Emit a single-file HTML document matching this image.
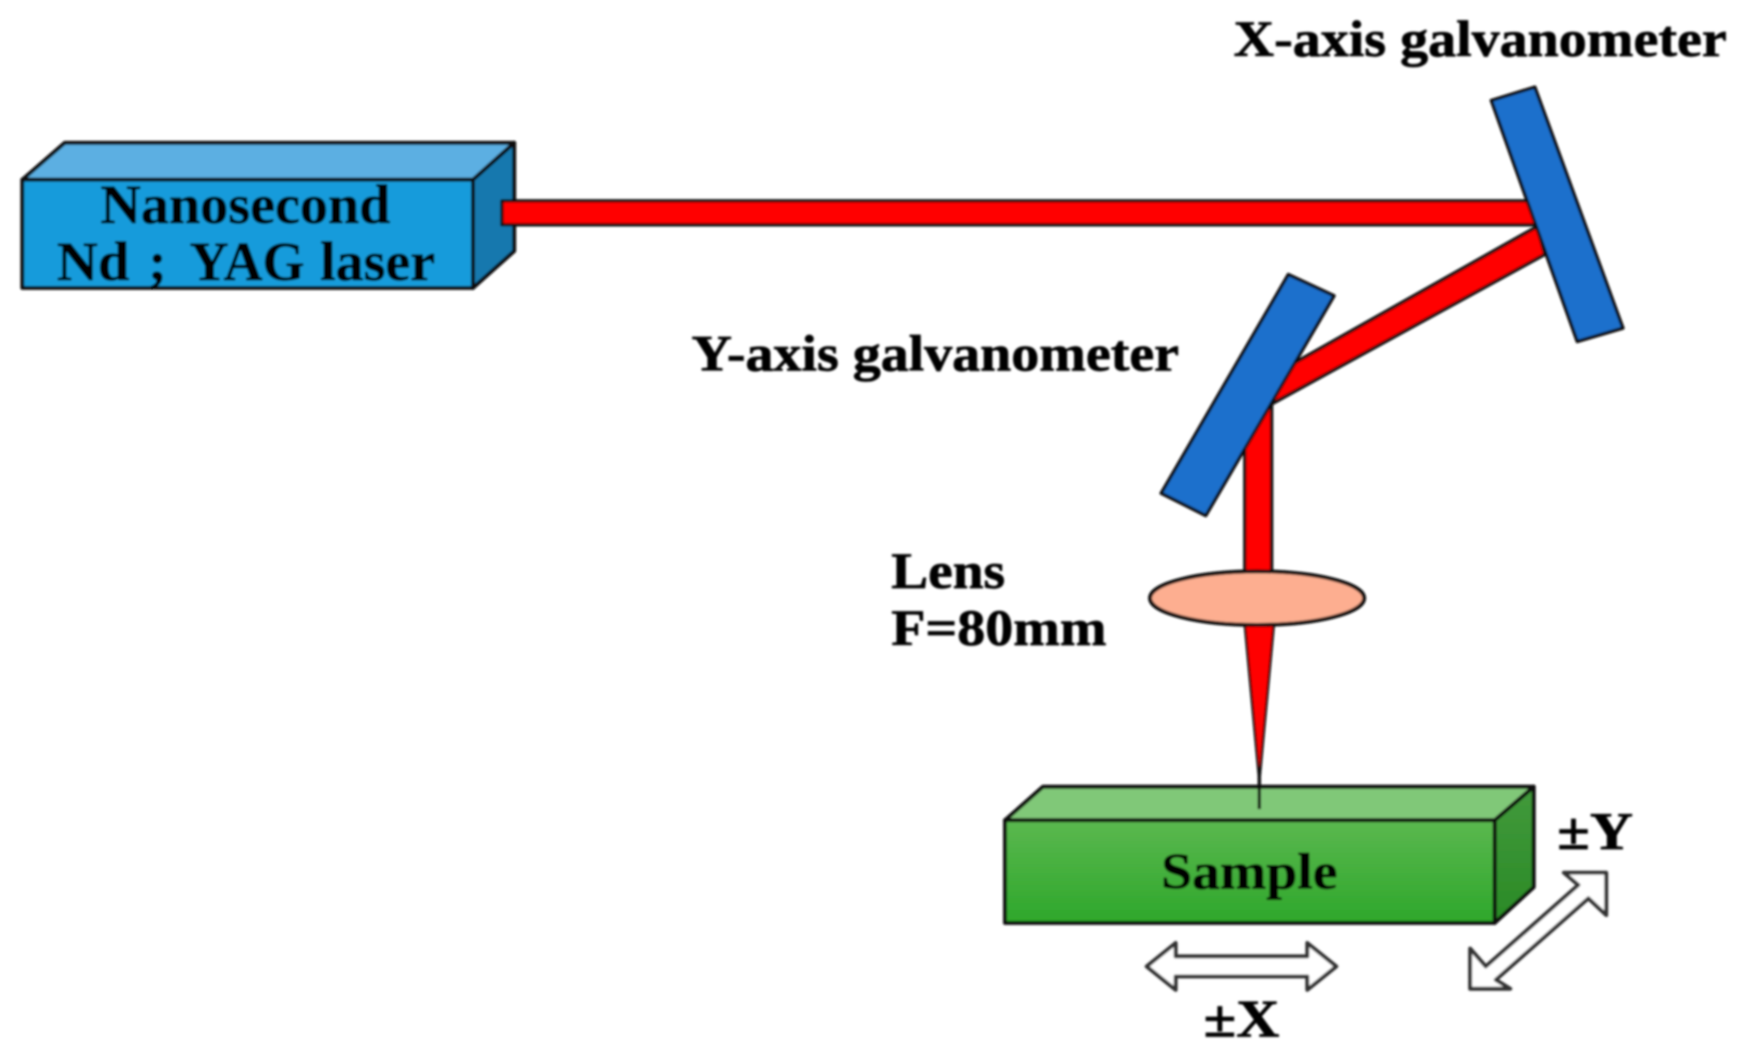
<!DOCTYPE html>
<html><head><meta charset="utf-8"><style>
html,body{margin:0;padding:0;background:#fff}
svg{display:block}
text{font-family:"Liberation Serif",serif;font-weight:bold;fill:#050505;stroke:#050505;stroke-width:0.6}
</style></head><body>
<svg width="1749" height="1049" viewBox="0 0 1568 940" preserveAspectRatio="none" xmlns="http://www.w3.org/2000/svg">
<defs>
<linearGradient id="g" x1="0" y1="0" x2="0" y2="1"><stop offset="0" stop-color="#5bb84f"/><stop offset="1" stop-color="#2ea72b"/></linearGradient>
<linearGradient id="gs" x1="0" y1="0" x2="0" y2="1"><stop offset="0" stop-color="#429a3c"/><stop offset="1" stop-color="#2a8a26"/></linearGradient>
<filter id="b" x="-2%" y="-2%" width="104%" height="104%"><feGaussianBlur stdDeviation="0.9"/></filter>
</defs>
<g filter="url(#b)">
<g stroke="#0a0a0a" stroke-width="3.5" stroke-linejoin="round">
<polygon points="20,161 58,128 461,128 424,161" fill="#5bafe2"/>
<polygon points="424,161 461,128 461,225 424,258" fill="#1278ae"/>
<rect x="20" y="161" width="404" height="97" fill="#189bdb"/>
<polygon points="1116,518 1116,345 1143,335 1378,203 1385,228 1140,362 1140,518" fill="#ff0000" stroke-width="3"/>
<rect x="450" y="180" width="928" height="21.5" fill="#ff0000" stroke-width="3"/>
<polygon points="1337,90 1376,78 1455,294 1414,306" fill="#1b6fcc" stroke-width="3"/>
<polygon points="1155,246 1196,265 1081,462 1041,442" fill="#1b6fcc" stroke-width="3"/>
<polygon points="901,735 935,705 1375,705 1340,735" fill="#80c878"/>
<polygon points="1340,735 1375,705 1375,795 1340,827" fill="url(#gs)"/>
<rect x="901" y="735" width="439" height="92" fill="url(#g)"/>
<polygon points="1116,560 1142,560 1129,700" fill="#ff0000" stroke-width="2.2"/>
<line x1="1129" y1="695" x2="1129" y2="725" stroke-width="3"/>
<ellipse cx="1127" cy="536" rx="96" ry="24" fill="#fdae90"/>
<polygon points="1028,866 1054,845 1054,857 1172,857 1172,845 1198,866 1172,887 1172,875 1054,875 1054,887" fill="#fff" stroke="#333" stroke-width="3.5"/>
<polygon points="1440,782 1440,820 1424,805 1341,878 1354,886 1318,886 1318,850 1332,866 1415,793 1402,782" fill="#fff" stroke="#333" stroke-width="3.5"/>
</g>
<text x="90" y="200" font-size="49" textLength="260" lengthAdjust="spacingAndGlyphs">Nanosecond</text>
<text x="51" y="251" font-size="49" textLength="65" lengthAdjust="spacingAndGlyphs">Nd</text>
<text x="133" y="251" font-size="49">;</text>
<text x="170" y="251" font-size="49" textLength="103" lengthAdjust="spacingAndGlyphs">YAG</text>
<text x="287" y="251" font-size="49" textLength="103" lengthAdjust="spacingAndGlyphs">laser</text>
<text x="1106" y="50" font-size="46" textLength="442" lengthAdjust="spacingAndGlyphs">X-axis galvanometer</text>
<text x="620" y="332" font-size="46" textLength="437" lengthAdjust="spacingAndGlyphs">Y-axis galvanometer</text>
<text x="799" y="527" font-size="46" textLength="102" lengthAdjust="spacingAndGlyphs">Lens</text>
<text x="799" y="578" font-size="46" textLength="193" lengthAdjust="spacingAndGlyphs">F=80mm</text>
<text x="1041" y="796" font-size="46" textLength="158" lengthAdjust="spacingAndGlyphs">Sample</text>
<text x="1396" y="761" font-size="47" textLength="68" lengthAdjust="spacingAndGlyphs">±Y</text>
<text x="1079" y="929" font-size="47" textLength="68" lengthAdjust="spacingAndGlyphs">±X</text>
</g>
</svg>
</body></html>
